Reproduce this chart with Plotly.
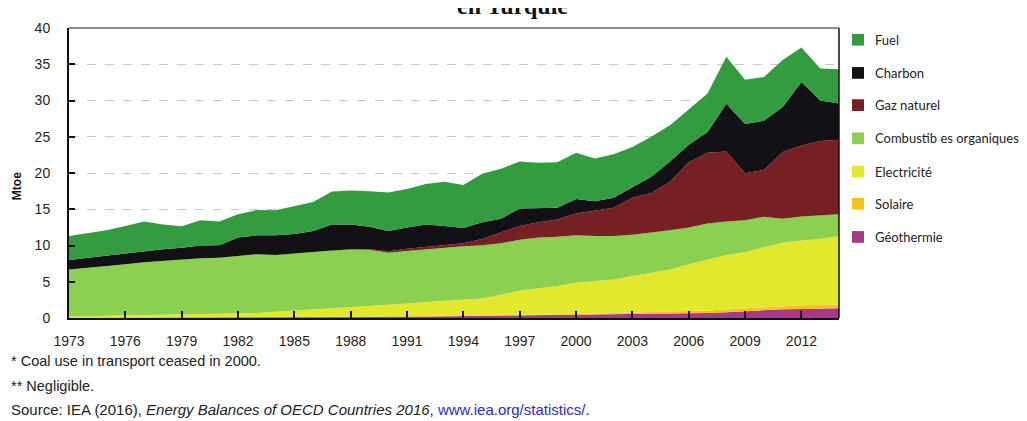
import plotly.graph_objects as go

years = list(range(1973, 2015))

# Mtoe par source (valeurs empilées de bas en haut)
geothermie = [0.05, 0.05, 0.05, 0.05, 0.05, 0.05, 0.05, 0.05, 0.05, 0.05,
              0.05, 0.05, 0.05, 0.05, 0.08, 0.10, 0.12, 0.15, 0.17, 0.20,
              0.22, 0.24, 0.26, 0.28, 0.30, 0.32, 0.35, 0.40, 0.42, 0.45,
              0.50, 0.53, 0.58, 0.62, 0.68, 0.80, 0.95, 1.10, 1.20, 1.25,
              1.30, 1.35]
solaire = [0.03, 0.03, 0.03, 0.03, 0.03, 0.03, 0.03, 0.03, 0.03, 0.03,
           0.03, 0.05, 0.05, 0.07, 0.07, 0.08, 0.08, 0.07, 0.08, 0.08,
           0.08, 0.09, 0.10, 0.12, 0.12, 0.13, 0.15, 0.15, 0.18, 0.20,
           0.22, 0.27, 0.30, 0.33, 0.37, 0.40, 0.40, 0.40, 0.45, 0.50,
           0.50, 0.50]
electricite = [0.12, 0.17, 0.22, 0.27, 0.32, 0.34, 0.37, 0.42, 0.42, 0.52,
               0.62, 0.75, 0.90, 1.03, 1.15, 1.27, 1.40, 1.58, 1.75, 1.92,
               2.10, 2.22, 2.34, 2.80, 3.38, 3.65, 3.90, 4.35, 4.50, 4.65,
               5.08, 5.40, 5.82, 6.45, 7.05, 7.50, 7.75, 8.30, 8.75, 8.95,
               9.10, 9.45]
combustibles = [6.50, 6.65, 6.80, 7.05, 7.30, 7.48, 7.65, 7.75, 7.80, 8.00,
                8.10, 7.85, 7.85, 7.95, 8.00, 8.00, 7.80, 7.20, 7.25, 7.30,
                7.30, 7.35, 7.35, 7.10, 7.00, 7.00, 6.80, 6.50, 6.20, 6.00,
                5.70, 5.55, 5.40, 5.10, 4.95, 4.60, 4.40, 4.15, 3.30, 3.30,
                3.20, 3.00]
gaz = [0, 0, 0, 0, 0, 0, 0, 0, 0, 0,
       0, 0, 0, 0, 0, 0.05, 0.10, 0.20, 0.30, 0.30,
       0.30, 0.40, 0.85, 1.50, 1.90, 2.10, 2.40, 3.00, 3.55, 3.90,
       5.10, 5.50, 6.70, 9.00, 9.75, 9.65, 6.45, 6.45, 9.20, 9.80,
       10.30, 10.30]
charbon = [1.30, 1.40, 1.50, 1.60, 1.50, 1.60, 1.60, 1.75, 1.75, 2.50,
           2.60, 2.70, 2.75, 2.90, 3.60, 3.40, 3.10, 2.80, 2.95, 3.10,
           2.70, 2.10, 2.30, 1.90, 2.40, 1.90, 1.60, 2.00, 1.25, 1.40,
           1.40, 2.25, 2.80, 2.40, 2.85, 6.60, 6.80, 6.80, 6.20, 8.75,
           5.60, 5.00]
fuel = [3.30, 3.40, 3.50, 3.70, 4.10, 3.40, 2.95, 3.50, 3.25, 3.20,
        3.50, 3.45, 3.80, 4.00, 4.55, 4.70, 4.90, 5.30, 5.30, 5.60,
        6.10, 5.95, 6.70, 6.90, 6.50, 6.30, 6.30, 6.40, 5.90, 6.00,
        5.60, 5.50, 5.00, 4.90, 5.30, 6.50, 6.10, 6.05, 6.50, 4.75,
        4.40, 4.70]

series = [
    ("Géothermie", geothermie, "#a53a8a"),
    ("Solaire", solaire, "#f8c21e"),
    ("Electricité", electricite, "#e1e82e"),
    ("Combustib es organiques", combustibles, "#8bd050"),
    ("Gaz naturel", gaz, "#772024"),
    ("Charbon", charbon, "#111116"),
    ("Fuel", fuel, "#339c40"),
]

# la page ajoute 8 px de marge : la figure est réduite d'autant
OFF = 8
W, H = 1027 - OFF, 421 - OFF
L, R, T, B = 69 - OFF, 188, 21 - OFF, 103


def px(x):
    return (x - OFF - L) / (W - L - R)


def py(y):
    return 1 - (y - OFF - T) / (H - T - B)


fig = go.Figure()
for name, vals, col in series:
    fig.add_trace(go.Scatter(
        x=years, y=vals, name=name, mode="lines", stackgroup="one",
        line=dict(width=0, color=col), fillcolor=col, hoverinfo="x+y+name"))

tick_font = dict(family="Liberation Sans Narrow, Arial Narrow, sans-serif", size=14, color="#2a1f14")

fig.update_layout(
    width=W, height=H,
    margin=dict(l=L, r=R, t=T, b=B),
    paper_bgcolor="white", plot_bgcolor="white",
    showlegend=False,
    xaxis=dict(range=[1973, 2014], tick0=1973, dtick=3, ticks="inside", ticklen=7,
               tickwidth=1.5, tickcolor="#111", showline=True, linecolor="#111",
               linewidth=2, showgrid=False, zeroline=False, tickfont=tick_font,
               ticklabelstandoff=9),
    yaxis=dict(range=[0, 40], tick0=0, dtick=5, ticks="inside", ticklen=6,
               tickwidth=1.5, tickcolor="#111", showline=True, linecolor="#111",
               linewidth=2, showgrid=True, gridcolor="#c8c8c8", griddash="dash",
               gridwidth=1, zeroline=False, tickfont=tick_font,
               ticklabelstandoff=14),
)

# cadre haut (gris) et droit (noir)
fig.add_shape(type="line", xref="paper", yref="paper", x0=0, x1=1, y0=1, y1=1,
              line=dict(color="#8a8a8a", width=2))
fig.add_shape(type="line", xref="paper", yref="paper", x0=1, x1=1, y0=0, y1=1,
              line=dict(color="#111", width=1.5))

# titre (coupé en haut)
fig.add_annotation(text="<b>en Turquie</b>", xref="paper", yref="paper",
                   x=px(512), y=py(-2), xanchor="center", yanchor="middle",
                   showarrow=False,
                   font=dict(family="Liberation Serif, Times New Roman, serif",
                             size=24, color="#111"))

fig.add_annotation(text="<b>Mtoe</b>", xref="paper", yref="paper",
                   x=px(17), y=py(183), xanchor="center", yanchor="middle",
                   textangle=-90, showarrow=False,
                   font=dict(family="Liberation Sans Narrow, Arial Narrow, sans-serif",
                             size=12, color="#111"))

# légende manuelle
leg_y = [33, 67, 100, 134, 168, 201, 235]
for (name, vals, col), yy in zip(reversed(series), leg_y):
    fig.add_shape(type="rect", xref="paper", yref="paper",
                  x0=px(852), x1=px(864), y0=py(yy - 6), y1=py(yy + 6),
                  fillcolor=col, line=dict(width=0))
    fig.add_annotation(text=name, xref="paper", yref="paper",
                       x=px(873), y=py(yy), xanchor="left", yanchor="middle",
                       showarrow=False,
                       font=dict(family="Lato, Open Sans, sans-serif", size=13, color="#222"))

notes = [
    ("* Coal use in transport ceased in 2000.", 362, 14.5),
    ("** Negligible.", 388, 14.5),
    ("Source: IEA (2016), <i>Energy Balances of OECD Countries 2016</i>, "
     "<span style='color:#2a2ad0'>www.iea.org/statistics/</span>.", 412, 15),
]
for txt, yy, fs in notes:
    fig.add_annotation(text=txt, xref="paper", yref="paper",
                       x=px(9), y=py(yy), xanchor="left", yanchor="middle",
                       showarrow=False,
                       font=dict(family="Liberation Sans, Arial, sans-serif", size=fs, color="#222"))

fig.write_html("out.html")
